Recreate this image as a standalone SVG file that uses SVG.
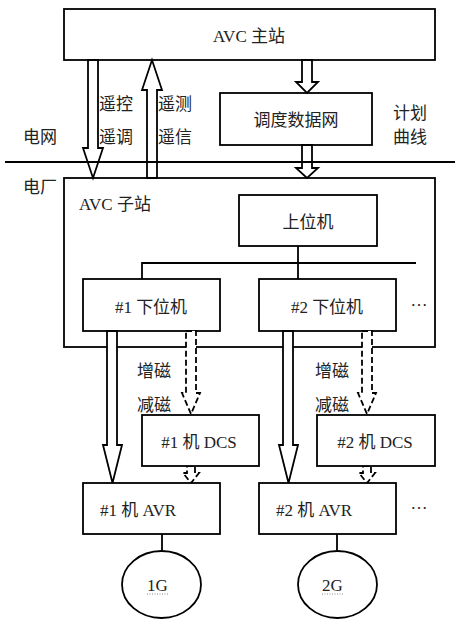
<svg xmlns="http://www.w3.org/2000/svg" width="464" height="624" viewBox="0 0 464 624">
<style>
.box{fill:#fff;stroke:#000;stroke-width:1.8}
.arr{fill:#fff;stroke:#000;stroke-width:1.8;stroke-linejoin:miter}
.darr{fill:#fff;stroke:#000;stroke-width:1.8;stroke-dasharray:6 3}
.ln{fill:none;stroke:#000;stroke-width:1.8}
text{font-family:"Liberation Serif","Noto Sans CJK SC",serif;font-size:17px;fill:#222}
.c{text-anchor:middle}
.dot{stroke:#888;stroke-width:1;stroke-dasharray:1 1.5}
</style>
<rect width="464" height="624" fill="#fff"/>
<g id="avc-master"><rect class="box" x="64" y="9" width="371" height="51"/><text class="c" x="249" y="42">AVC 主站</text></g>
<g id="dispatch-net"><rect class="box" x="220" y="93" width="152" height="52"/><text class="c" x="296" y="126">调度数据网</text></g>
<g id="avc-sub"><rect class="box" x="64" y="178" width="371" height="169"/><text x="79" y="210">AVC 子站</text></g>
<g id="upper"><rect class="box" x="239" y="195" width="138" height="51"/><text class="c" x="308" y="228">上位机</text></g>
<g id="lower1"><rect class="box" x="83" y="279" width="137" height="52"/><text class="c" x="151" y="313">#1 下位机</text></g>
<g id="lower2"><rect class="box" x="259" y="279" width="137" height="52"/><text class="c" x="327" y="313">#2 下位机</text></g>
<g id="connectors">
<polygon class="arr" points="88,60 98,60 98,148 103,148 93,178 83,148 88,148"/>
<polygon class="arr" points="147,178 157,178 157,90 162,90 152,60 142,90 147,90"/>
<polygon class="arr" points="302,60 312,60 312,82 318,82 307,93 296,82 302,82"/>
<polygon class="arr" points="302,145 312,145 312,168 318,168 307,178 296,168 302,168"/>
<path class="ln" d="M298,246V279M142,279V263H416"/>
<polygon class="arr" points="107,331 117,331 117,445 122,445 112.5,483 103,445 107,445"/>
<polygon class="arr" points="283,331 293,331 293,445 298,445 288.5,483 279,445 283,445"/>
<polygon class="darr" points="186,331 196,331 196,393 200,393 191,414 182,393 186,393"/>
<polygon class="darr" points="362,331 372,331 372,393 376,393 367,414 358,393 362,393"/>
<polygon class="darr" points="187,466 195,466 195,473 199,473 191,483 183,473 187,473"/>
<polygon class="darr" points="363,466 371,466 371,473 375,473 367,483 359,473 363,473"/>
<path class="ln" d="M162,534V551M337,534V551"/>
<path class="ln" d="M5,162H455"/>
</g>
<g id="labels">
<text x="99" y="110">遥控</text><text x="99" y="143">遥调</text>
<text x="158" y="110">遥测</text><text x="158" y="143">遥信</text>
<text x="23" y="143">电网</text><text x="23" y="193">电厂</text>
<text x="393" y="119">计划</text><text x="393" y="143">曲线</text>
<text x="137" y="377">增磁</text><text x="137" y="411">减磁</text>
<text x="315" y="377">增磁</text><text x="315" y="411">减磁</text>
<text class="c" x="419" y="306">…</text><text class="c" x="419" y="509">…</text>
</g>
<g id="dcs1"><rect class="box" x="142" y="415" width="117" height="51"/><text class="c" x="199" y="448">#1 机 DCS</text></g>
<g id="dcs2"><rect class="box" x="317" y="415" width="118" height="51"/><text class="c" x="375" y="448">#2 机 DCS</text></g>
<g id="avr1"><rect class="box" x="83" y="483" width="137" height="51"/><text x="100" y="516">#1 机 AVR</text></g>
<g id="avr2"><rect class="box" x="259" y="483" width="137" height="51"/><text x="276" y="516">#2 机 AVR</text></g>
<g id="gen1"><ellipse class="box" cx="161.5" cy="584.5" rx="39.5" ry="33.5"/><text class="c" x="157.5" y="591">1G</text><path class="dot" d="M147,594H168"/></g>
<g id="gen2"><ellipse class="box" cx="337.5" cy="584.5" rx="39.5" ry="33.5"/><text class="c" x="332.5" y="591">2G</text><path class="dot" d="M322,594H343"/></g>
</svg>
